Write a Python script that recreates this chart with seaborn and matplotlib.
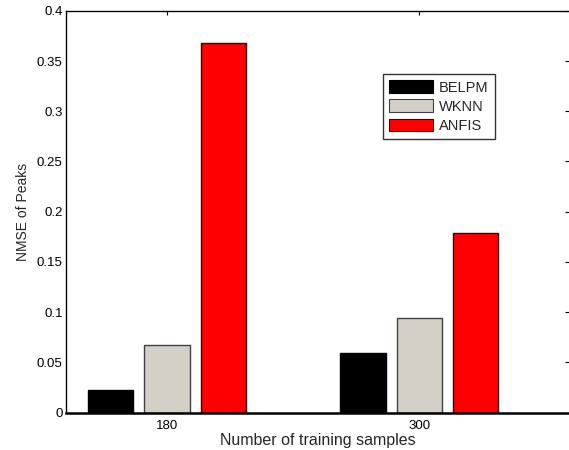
import matplotlib
matplotlib.use("Agg")
import matplotlib.pyplot as plt
import seaborn as sns
import pandas as pd

# NMSE of the Peaks output for each method and training-set size
samples = ["180", "300"]
methods = ["BELPM", "WKNN", "ANFIS"]
belpm = [0.023, 0.059]
wknn = [0.067, 0.094]
anfis = [0.368, 0.179]
yticks = [0, 0.05, 0.1, 0.15, 0.2, 0.25, 0.3, 0.35, 0.4]
ytick_labels = ["0", "0.05", "0.1", "0.15", "0.2", "0.25", "0.3", "0.35", "0.4"]

colors = ["#000000", "#d4d0c8", "#ff0000"]
edges = ["#000000", "#404040", "#3a0000"]

rows = []
for m, vals in zip(methods, [belpm, wknn, anfis]):
    for s, v in zip(samples, vals):
        rows.append({"samples": s, "method": m, "nmse": v})
df = pd.DataFrame(rows)

sns.set_style("white")
plt.rcParams["font.family"] = ["Liberation Sans", "DejaVu Sans"]

fig = plt.figure(figsize=(5.69, 4.5), dpi=100)
ax = fig.add_axes([0.116, 0.083, 0.8868, 0.893])

sns.barplot(data=df, x="samples", y="nmse", hue="method", order=samples,
            hue_order=methods, palette=colors, width=0.669, gap=0.195,
            saturation=1, ax=ax, legend=True)

for cont, ec in zip(ax.containers, edges):
    for bar in cont:
        bar.set_edgecolor(ec)
        bar.set_linewidth(1.0)

ax.set_axisbelow(True)
ax.set_xlim(-0.4, 1.6)
ax.set_ylim(0, 0.4)
ax.set_yticks(yticks)
ax.set_yticklabels(ytick_labels)
ax.tick_params(axis="both", direction="in", length=4, width=0.8, labelsize=9.5,
               colors="black", top=True, right=True, pad=2.5)
ax.tick_params(axis="x", length=3, pad=5)

for side in ["left", "top", "right"]:
    ax.spines[side].set_color("black")
    ax.spines[side].set_linewidth(1.0)
ax.spines["bottom"].set_color("black")
ax.spines["bottom"].set_linewidth(1.8)

ax.set_xlabel("Number of training samples", fontsize=11.5, labelpad=1)
ax.set_ylabel("NMSE of Peaks", fontsize=10, labelpad=5)

leg = ax.legend(loc="upper left", bbox_to_anchor=(0.673, 0.836),
                bbox_transform=fig.transFigure, fontsize=10.5, frameon=True,
                fancybox=False, edgecolor="black", borderpad=0.45,
                handlelength=3.0, handleheight=0.95, handletextpad=0.4,
                labelspacing=0.33, borderaxespad=0)
leg.get_frame().set_linewidth(1.0)
for h, ec in zip(leg.legend_handles, edges):
    h.set_edgecolor(ec)
    h.set_linewidth(0.8)

fig.savefig("out.png", dpi=100)
